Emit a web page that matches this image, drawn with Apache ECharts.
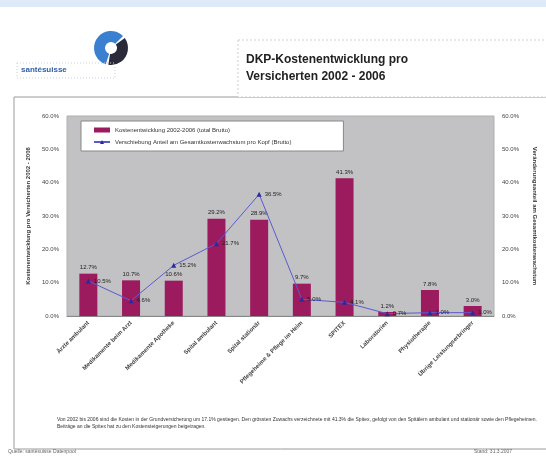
<!DOCTYPE html>
<html><head><meta charset="utf-8">
<script src="https://cdn.jsdelivr.net/npm/echarts@6/dist/echarts.min.js"></script>
<style>html,body{margin:0;padding:0;background:#fff}#c{width:546px;height:457px}</style>
</head><body><div id="c"></div>
<script>
const categories = ["Ärzte ambulant","Medikamente beim Arzt","Medikamente Apotheke","Spital ambulant","Spital stationär","Pflegeheime & Pflege im Heim","SPITEX","Laboratorien","Physiotherapie","Übrige Leistungserbringer"];
const costGrowth = [12.7,10.7,10.6,29.2,28.9,9.7,41.3,1.2,7.8,3.0];
const shareOfGrowth = [10.5,4.6,15.2,21.7,36.5,5.0,4.1,0.7,1.0,1.0];
const leftTicks = [0,10,20,30,40,50,60];
const legendNames = ["Kostenentwicklung 2002-2006 (total Brutto)","Verschiebung Anteil am Gesamtkostenwachstum pro Kopf (Brutto)"];

const F = "Liberation Sans, Arial, sans-serif";
const chart = echarts.init(document.getElementById('c'));
chart.setOption({
  animation:false,
  backgroundColor:'#fff',
  textStyle:{fontFamily:F},
  grid:{left:67,right:48,top:116,bottom:141,show:true,backgroundColor:'#c2c2c5',borderColor:'#b0b0b0',borderWidth:1},
  legend:{
    data:[{name:legendNames[0],icon:'rect'},{name:legendNames[1]}],
    orient:'vertical',left:81,top:121,itemWidth:16,itemHeight:5,itemGap:6,
    backgroundColor:'#fff',borderColor:'#888',borderWidth:1,padding:[6,52,6,12],
    textStyle:{fontSize:6,color:'#333',fontFamily:F}
  },
  xAxis:{type:'category',data:categories,
    axisTick:{show:false},axisLine:{lineStyle:{color:'#888'}},
    axisLabel:{rotate:45,fontSize:6,color:'#444',margin:6,interval:0,fontWeight:'bold'}},
  yAxis:[
    {type:'value',min:leftTicks[0],max:leftTicks[leftTicks.length-1],interval:10,
     name:'Kostenentwicklung pro Versicherten 2002 - 2006',nameLocation:'middle',nameGap:36,
     nameTextStyle:{fontSize:6,color:'#333',fontWeight:'bold'},
     splitLine:{show:false},axisLine:{show:false},axisTick:{show:false},
     axisLabel:{fontSize:6,color:'#444',formatter:v=>v.toFixed(1)+'%',margin:8}},
    {type:'value',min:0,max:60,interval:10,position:'right',
     name:'Veränderungsanteil am Gesamtkostenwachstum',nameLocation:'middle',nameGap:38,nameRotate:-90,
     nameTextStyle:{fontSize:6,color:'#333',fontWeight:'bold'},
     splitLine:{show:false},axisLine:{show:false},axisTick:{show:false},
     axisLabel:{fontSize:6,color:'#444',formatter:v=>v.toFixed(1)+'%',margin:8}}
  ],
  series:[
    {name:legendNames[0],type:'bar',data:costGrowth,barWidth:18,yAxisIndex:0,
     itemStyle:{color:'#9c1a5e'},
     label:{show:true,position:'top',fontSize:6,color:'#222',distance:3,formatter:p=>p.value.toFixed(1)+'%'}},
    {name:legendNames[1],type:'line',data:shareOfGrowth,yAxisIndex:1,
     lineStyle:{color:'#5a5ad0',width:1},symbol:'triangle',symbolSize:5,
     itemStyle:{color:'#2a2aa0'},
     label:{show:true,position:'right',fontSize:6,color:'#222',distance:3,formatter:p=>p.value.toFixed(1)+'%'}}
  ],
  graphic:[
    {type:'rect',shape:{x:0,y:0,width:546,height:7},style:{fill:'#deeaf7'},silent:true},
    {type:'rect',shape:{x:14,y:97,width:545,height:352},style:{fill:'none',stroke:'#9a9a9a',lineWidth:1},z:-1},
    {type:'sector',shape:{cx:111,cy:48,r0:6,r:17,startAngle:Math.PI*0.6,endAngle:Math.PI*1.75},style:{fill:'#3b7fd0'}},
    {type:'sector',shape:{cx:111,cy:48,r0:6,r:17,startAngle:-Math.PI*0.2,endAngle:Math.PI*0.55},style:{fill:'#2a2a3a'}},
    {type:'rect',shape:{x:17,y:63,width:98,height:15},style:{fill:'none',stroke:'#c8d0e0',lineWidth:1,lineDash:[1,2]}},
    {type:'text',left:21,top:66,style:{text:'santésuisse',fontSize:8,fontWeight:'bold',fill:'#2f5fa8',fontFamily:F}},
    {type:'rect',shape:{x:238,y:40,width:320,height:57},style:{fill:'#fff',stroke:'#cfcfcf',lineWidth:1,lineDash:[2,2]}},
    {type:'text',left:246,top:51,style:{text:'DKP-Kostenentwicklung pro\nVersicherten 2002 - 2006',fontSize:12,lineHeight:17,fontWeight:'bold',fill:'#222',fontFamily:F}},
    {type:'text',left:57,top:416,style:{text:'Von 2002 bis 2006 sind die Kosten in der Grundversicherung um 17.1% gestiegen. Den grössten Zuwachs verzeichnete mit 41.3% die Spitex, gefolgt von den Spitälern ambulant und stationär sowie den Pflegeheimen.\nBeiträge an die Spitex hat zu den Kostensteigerungen beigetragen.',fontSize:5,lineHeight:7,fill:'#333',fontFamily:F}},
    {type:'text',left:8,top:449,style:{text:'Quelle: santésuisse Datenpool',fontSize:5,fill:'#666',fontFamily:F}},
    {type:'text',left:474,top:449,style:{text:'Stand: 31.3.2007',fontSize:5,fill:'#666',fontFamily:F}}
  ]
});
</script></body></html>
